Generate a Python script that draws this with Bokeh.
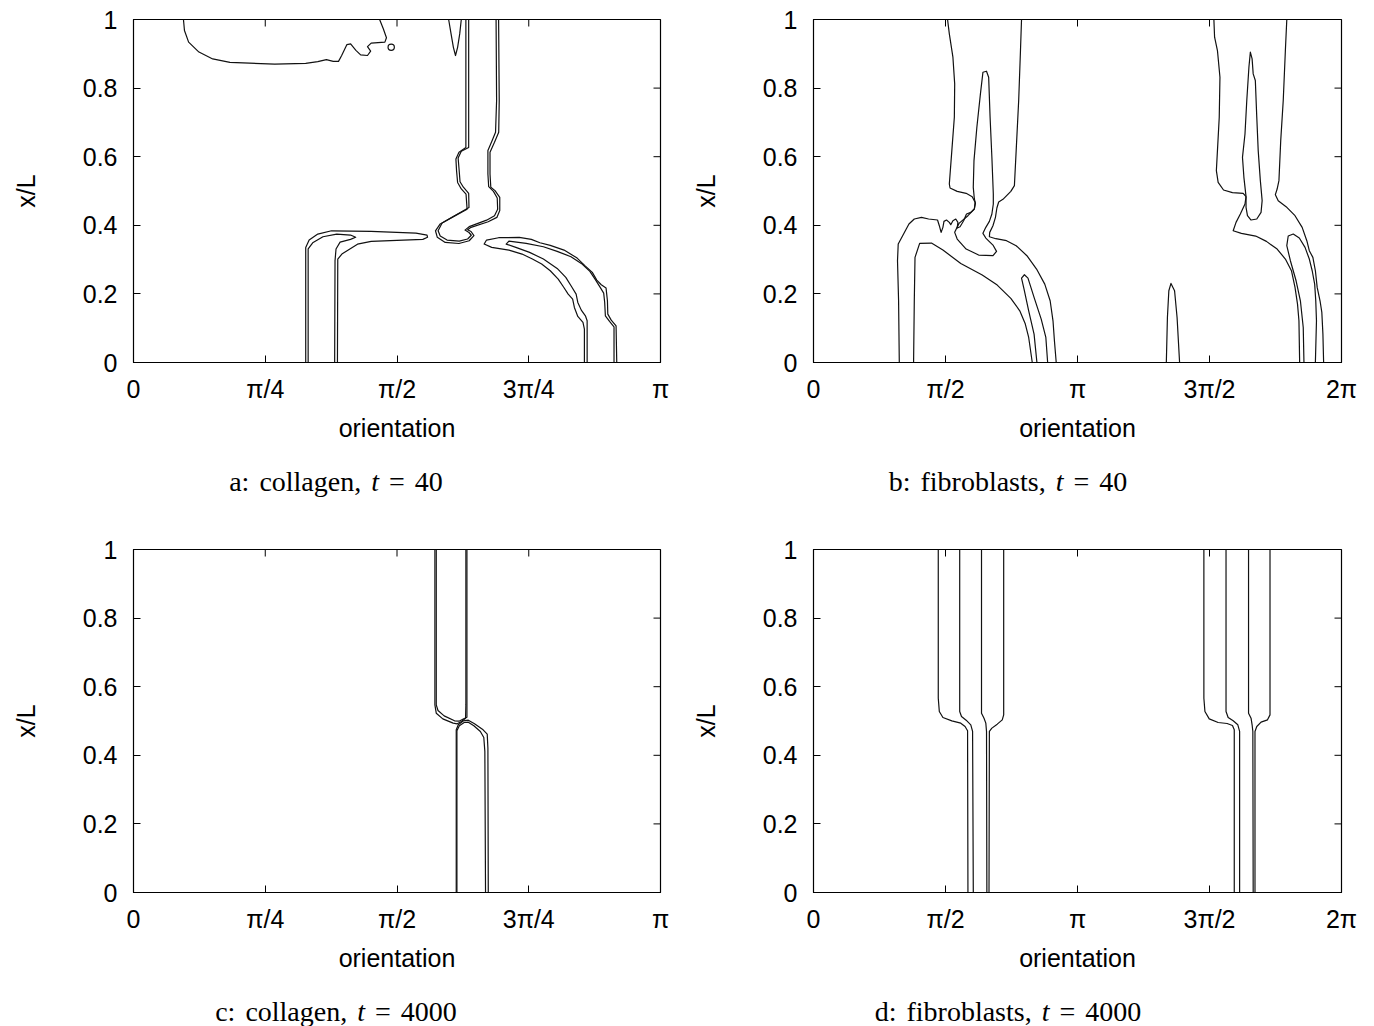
import numpy as np
from bokeh.plotting import figure
from bokeh.models import Range1d, FixedTicker, Div
from bokeh.layouts import column, row
from bokeh.embed import file_html
from bokeh.resources import INLINE

# Contour lines of the orientation distributions.
# Horizontal coordinate: orientation in units of pi; vertical: x/L.

# ---- a: collagen, t = 40 -------------------------------------------------
a_blob_x = [0.0948, 0.0967, 0.1046, 0.1242, 0.1503, 0.1830, 0.2680, 0.3268, 0.3497, 0.366,
            0.379, 0.389, 0.395, 0.405, 0.412, 0.422, 0.431, 0.444, 0.450, 0.444, 0.451,
            0.477, 0.480, 0.474, 0.467]
a_blob_y = [1.0, 0.968, 0.934, 0.905, 0.885, 0.875, 0.870, 0.872, 0.877, 0.883,
            0.878, 0.878, 0.895, 0.927, 0.929, 0.910, 0.897, 0.895, 0.908, 0.921, 0.931,
            0.934, 0.947, 0.973, 1.0]
a_ring_x, a_ring_y, a_ring_w, a_ring_h = 0.489, 0.919, 0.012, 0.018

a_spike_x = [0.598, 0.6026, 0.607, 0.611, 0.615, 0.619, 0.622]
a_spike_y = [1.0, 0.958, 0.919, 0.895, 0.919, 0.958, 1.0]

a_col1_x = [0.6307, 0.6307, 0.6176, 0.6118, 0.613, 0.615, 0.622, 0.631, 0.633, 0.608, 0.582,
            0.573, 0.5765, 0.5915, 0.6176, 0.637, 0.646, 0.6405, 0.634, 0.6405, 0.673, 0.6895,
            0.695, 0.695, 0.686, 0.678, 0.6765, 0.6765, 0.685, 0.693, 0.694, 0.6928]
a_col1_y = [1.0, 0.627, 0.613, 0.593, 0.559, 0.525, 0.506, 0.491, 0.447, 0.426, 0.404,
            0.384, 0.365, 0.350, 0.347, 0.355, 0.370, 0.382, 0.387, 0.394, 0.4105, 0.423,
            0.443, 0.4815, 0.501, 0.511, 0.5496, 0.613, 0.642, 0.671, 0.764, 1.0]
a_col2_x = [0.636, 0.636, 0.622, 0.616, 0.618, 0.6196, 0.626, 0.636, 0.6366, 0.611, 0.5856,
            0.578, 0.582, 0.595, 0.618, 0.634, 0.641, 0.6366, 0.629, 0.637, 0.670, 0.685,
            0.691, 0.6902, 0.683, 0.674, 0.6725, 0.6725, 0.680, 0.687, 0.689, 0.688]
a_col2_y = [1.0, 0.627, 0.616, 0.596, 0.559, 0.527, 0.511, 0.493, 0.452, 0.429, 0.4066,
            0.384, 0.369, 0.357, 0.354, 0.360, 0.371, 0.379, 0.386, 0.396, 0.415, 0.428,
            0.447, 0.4796, 0.499, 0.5126, 0.5496, 0.618, 0.645, 0.671, 0.764, 1.0]

a_left1_x = [0.3268, 0.3268, 0.3333, 0.3497, 0.3758, 0.451, 0.536, 0.557, 0.558, 0.549,
             0.451, 0.425, 0.3954, 0.3876, 0.387]
a_left1_y = [0.0, 0.3356, 0.357, 0.3745, 0.384, 0.382, 0.377, 0.3716, 0.365, 0.359,
             0.353, 0.345, 0.316, 0.3016, 0.0]
a_left2_x = [0.3314, 0.3314, 0.340, 0.3595, 0.3856, 0.4118, 0.4216, 0.4118, 0.392, 0.3843,
             0.3824, 0.3817]
a_left2_y = [0.0, 0.331, 0.349, 0.3667, 0.3745, 0.3716, 0.365, 0.359, 0.351, 0.331,
             0.2967, 0.0]

a_right1_x = [0.8556, 0.8556, 0.8529, 0.8431, 0.8366, 0.8333, 0.8248, 0.8157, 0.8059, 0.7908,
              0.7745, 0.7569, 0.7373, 0.7124, 0.6797, 0.6654, 0.6699, 0.6928, 0.7320, 0.7549,
              0.7712, 0.7908, 0.8170, 0.8418, 0.8575, 0.8706, 0.8791, 0.8876, 0.8967, 0.8993,
              0.9000, 0.9065, 0.9157, 0.9170]
a_right1_y = [0.0, 0.0973, 0.1167, 0.1342, 0.1605, 0.1848, 0.1994, 0.2208, 0.2432, 0.2675,
              0.2870, 0.3016, 0.3161, 0.3278, 0.3356, 0.3453, 0.3570, 0.3638, 0.3648, 0.3589,
              0.3492, 0.3414, 0.3278, 0.3045, 0.2811, 0.2626, 0.2403, 0.2267, 0.2169, 0.1800,
              0.1411, 0.1235, 0.1070, 0.0]
a_right2_x = [0.8608, 0.8608, 0.8575, 0.8497, 0.8431, 0.8399, 0.8314, 0.8203, 0.8039, 0.7778,
              0.7516, 0.7255, 0.7072, 0.7124, 0.7451, 0.7778, 0.8039, 0.8301, 0.8497, 0.8660,
              0.8758, 0.8856, 0.8922, 0.8941, 0.8954, 0.9033, 0.9118, 0.9118]
a_right2_y = [0.0, 0.1216, 0.1362, 0.1527, 0.1751, 0.1994, 0.2208, 0.2481, 0.2743, 0.3016,
              0.3210, 0.3356, 0.3453, 0.3541, 0.3473, 0.3375, 0.3239, 0.3084, 0.2889, 0.2656,
              0.2432, 0.2189, 0.2023, 0.1751, 0.1362, 0.1196, 0.1041, 0.0]

# ---- b: fibroblasts, t = 40 ----------------------------------------------
b_l1_x = [0.325, 0.3223, 0.3182, 0.3209, 0.3412, 0.3615, 0.3818, 0.4089, 0.436, 0.4698,
          0.4766, 0.4834, 0.4902, 0.4942, 0.5037, 0.5145, 0.5199, 0.5281, 0.5389, 0.547,
          0.5443, 0.5551, 0.5687, 0.5795, 0.5958, 0.6093, 0.612, 0.6012, 0.5782, 0.5443,
          0.5172, 0.5145, 0.524, 0.5335, 0.5348, 0.5281, 0.5145, 0.5078]
b_l1_y = [0.0, 0.18, 0.2967, 0.3453, 0.3745, 0.4037, 0.4183, 0.4232, 0.4183, 0.4154,
          0.3988, 0.3794, 0.394, 0.4115, 0.4154, 0.4086, 0.4018, 0.4134, 0.4183, 0.4086,
          0.392, 0.3959, 0.4134, 0.4329, 0.4377, 0.4475, 0.4669, 0.4835, 0.4932, 0.499,
          0.5088, 0.5204, 0.6177, 0.715, 0.8123, 0.8901, 0.9582, 1.0]
b_l2_x = [0.788, 0.784, 0.7772, 0.7677, 0.761, 0.7474, 0.7176, 0.7014, 0.6946, 0.6892,
          0.6797, 0.6675, 0.6662, 0.6906, 0.7312, 0.7677, 0.8083, 0.8449, 0.876, 0.8964,
          0.9072, 0.9126, 0.9194]
b_l2_y = [1.0, 0.9095, 0.7636, 0.6177, 0.5156, 0.499, 0.4757, 0.4679, 0.4504, 0.4232,
          0.3988, 0.3794, 0.3667, 0.3609, 0.3551, 0.3405, 0.3113, 0.2724, 0.2286, 0.18,
          0.1216, 0.0632, 0.0]
b_l3_x = [0.6093, 0.585, 0.5511, 0.5348, 0.5443, 0.5782, 0.6256, 0.6798, 0.6933, 0.6798,
          0.6527, 0.6418, 0.6527, 0.6662, 0.6757, 0.6811, 0.6811, 0.6757, 0.6689, 0.6635,
          0.6553, 0.6418, 0.6323, 0.6188, 0.6079, 0.6052, 0.6093, 0.6134, 0.6093]
b_l3_y = [0.4475, 0.428, 0.4056, 0.3794, 0.3599, 0.3307, 0.3132, 0.3113, 0.3239, 0.3424,
          0.3628, 0.3765, 0.394, 0.4115, 0.4329, 0.462, 0.4912, 0.5982, 0.715, 0.8317,
          0.8492, 0.8463, 0.7831, 0.6858, 0.5885, 0.5107, 0.4767, 0.464, 0.4475]
b_l4_x = [0.3791, 0.3818, 0.3845, 0.4021, 0.4468, 0.4902, 0.5579, 0.6391, 0.696, 0.7474,
          0.7813, 0.8016, 0.8151, 0.8287]
b_l4_y = [0.0, 0.18, 0.3064, 0.3473, 0.3482, 0.3278, 0.2889, 0.2549, 0.2257, 0.1868,
          0.1508, 0.1138, 0.073, 0.0]
b_l5_x = [0.8463, 0.8355, 0.8151, 0.7975, 0.788, 0.7989, 0.8124, 0.8355, 0.8625, 0.8801,
          0.8869]
b_l5_y = [0.0, 0.0827, 0.1508, 0.214, 0.2461, 0.2558, 0.2461, 0.1897, 0.1265, 0.073, 0.0]
b_c_x = [1.3365, 1.3406, 1.3460, 1.3541, 1.3677, 1.3772, 1.3867]
b_c_y = [0.0, 0.1313, 0.2091, 0.2305, 0.2091, 0.1313, 0.0]
b_r1_x = [1.5166, 1.5193, 1.5301, 1.5396, 1.5369, 1.5301, 1.526, 1.5328, 1.5531, 1.5869,
          1.6276, 1.6384, 1.6344, 1.6168, 1.6005, 1.5897, 1.6208, 1.6750, 1.7156, 1.7562,
          1.7874, 1.8104, 1.8239, 1.8334, 1.8388, 1.8415]
b_r1_y = [1.0, 0.9484, 0.9095, 0.8317, 0.715, 0.6177, 0.5593, 0.5253, 0.5029, 0.4951,
          0.4932, 0.4835, 0.4621, 0.4329, 0.4086, 0.3842, 0.3765, 0.3687, 0.3531, 0.3307,
          0.3016, 0.2675, 0.2189, 0.1702, 0.1216, 0.0]
b_r2_x = [1.6384, 1.6303, 1.6249, 1.6344, 1.6412, 1.6493, 1.6547, 1.6614, 1.6655, 1.6736,
          1.6791, 1.6845, 1.6926, 1.6994, 1.6953, 1.6791, 1.6574, 1.6438, 1.6384, 1.6384]
b_r2_y = [0.4835, 0.5399, 0.5982, 0.6663, 0.7636, 0.8609, 0.9047, 0.8852, 0.8414, 0.822,
          0.715, 0.6177, 0.5302, 0.4718, 0.4377, 0.4183, 0.4154, 0.428, 0.4523, 0.4835]
b_r3_x = [1.7928, 1.7874, 1.7793, 1.7698, 1.763, 1.7562, 1.7495, 1.7603, 1.7901, 1.8239,
          1.851, 1.8686, 1.8781, 1.8916, 1.9011, 1.9079, 1.9187, 1.9255, 1.9296, 1.9323]
b_r3_y = [1.0, 0.9095, 0.7636, 0.6469, 0.5302, 0.5058, 0.4893, 0.4718, 0.4543, 0.428,
          0.394, 0.3551, 0.3259, 0.3064, 0.2675, 0.2189, 0.18, 0.1459, 0.0827, 0.0]
b_r4_x = [1.8578, 1.8551, 1.8443, 1.828, 1.8064, 1.7928, 1.7982, 1.8172, 1.8402, 1.8619,
          1.8781, 1.889, 1.8984, 1.9025, 1.9052, 1.9011]
b_r4_y = [0.0, 0.1021, 0.18, 0.2383, 0.2967, 0.3405, 0.3687, 0.3745, 0.3628, 0.3356,
          0.3016, 0.2675, 0.2286, 0.18, 0.1216, 0.0]

# ---- c: collagen, t = 4000 -----------------------------------------------
c_1_x = [0.5719, 0.5719, 0.5745, 0.5869, 0.6065, 0.6144, 0.6222, 0.6301, 0.6307, 0.6307]
c_1_y = [1.0, 0.547, 0.5227, 0.5063, 0.4937, 0.4918, 0.4985, 0.5082, 0.547, 1.0]
c_2_x = [0.5745, 0.5745, 0.5778, 0.5895, 0.6092, 0.6176, 0.6248, 0.6327, 0.6327, 0.6327]
c_2_y = [1.0, 0.547, 0.5305, 0.515, 0.5005, 0.4995, 0.5053, 0.5111, 0.547, 1.0]
c_3_x = [0.6124, 0.6124, 0.6163, 0.6261, 0.6353, 0.6471, 0.6634, 0.6712, 0.6725, 0.6732]
c_3_y = [0.0, 0.4743, 0.4889, 0.5005, 0.5024, 0.4918, 0.4743, 0.4618, 0.4211, 0.0]
c_4_x = [0.6137, 0.6137, 0.6183, 0.6275, 0.6353, 0.6458, 0.6582, 0.6647, 0.6667, 0.668]
c_4_y = [0.0, 0.4714, 0.486, 0.4956, 0.4966, 0.486, 0.4695, 0.4521, 0.4114, 0.0]

# ---- d: fibroblasts, t = 4000 --------------------------------------------
d_1_x = [0.4726, 0.4726, 0.4766, 0.4902, 0.5240, 0.5579, 0.5741, 0.5836, 0.5850]
d_1_y = [1.0, 0.5663, 0.5276, 0.5102, 0.5005, 0.4937, 0.484, 0.4714, 0.0]
d_2_x = [0.5538, 0.5538, 0.5606, 0.5782, 0.5958, 0.6026, 0.6053]
d_2_y = [1.0, 0.5276, 0.5131, 0.5024, 0.4889, 0.4695, 0.0]
d_3_x = [0.6364, 0.6364, 0.6459, 0.6527, 0.6554, 0.6567]
d_3_y = [1.0, 0.5228, 0.5082, 0.4937, 0.4695, 0.0]
d_4_x = [0.7204, 0.7204, 0.715, 0.696, 0.6757, 0.6662, 0.6648]
d_4_y = [1.0, 0.5179, 0.5034, 0.4908, 0.4792, 0.4695, 0.0]
d_5_x = [1.4787, 1.4787, 1.4827, 1.499, 1.5328, 1.5667, 1.587, 1.5938, 1.5938]
d_5_y = [1.0, 0.5663, 0.5276, 0.5063, 0.4956, 0.4927, 0.4869, 0.4743, 0.0]
d_6_x = [1.5626, 1.5626, 1.5707, 1.5897, 1.6073, 1.6141, 1.6141]
d_6_y = [1.0, 0.5276, 0.5102, 0.5005, 0.4889, 0.4695, 0.0]
d_7_x = [1.6479, 1.6479, 1.6574, 1.6614, 1.6642, 1.6655]
d_7_y = [1.0, 0.5228, 0.5082, 0.4889, 0.4695, 0.0]
d_8_x = [1.7292, 1.7292, 1.7197, 1.6953, 1.6791, 1.6723, 1.6723]
d_8_y = [1.0, 0.5179, 0.5034, 0.4966, 0.484, 0.4695, 0.0]

# Axis ticks
y_ticks = [0, 0.2, 0.4, 0.6, 0.8, 1]
y_tick_labels = ["0", "0.2", "0.4", "0.6", "0.8", "1"]
half_ticks = [0, 0.25, 0.5, 0.75, 1]
half_tick_labels = ["0", "π/4", "π/2", "3π/4", "π"]
full_ticks = [0, 0.5, 1, 1.5, 2]
full_tick_labels = ["0", "π/2", "π", "3π/2", "2π"]

captions = [
    "a: collagen, <i>t</i> = 40",
    "b: fibroblasts, <i>t</i> = 40",
    "c: collagen, <i>t</i> = 4000",
    "d: fibroblasts, <i>t</i> = 4000",
]

SANS = "Liberation Sans"
FS = "25px"
TICK = 7
INK = "#111111"


def style_axis(ax, ticks, labels):
    ax.ticker = FixedTicker(ticks=ticks)
    ax.major_label_overrides = {t: s for t, s in zip(ticks, labels)}
    ax.major_tick_in = TICK
    ax.major_tick_out = 0
    ax.minor_tick_line_color = None
    ax.axis_line_color = "black"
    ax.major_tick_line_color = "black"
    ax.major_label_text_font = SANS
    ax.major_label_text_font_size = FS
    ax.major_label_text_color = "black"
    ax.axis_label_text_font = SANS
    ax.axis_label_text_font_style = "normal"
    ax.axis_label_text_font_size = FS
    ax.axis_label_text_color = "black"


def panel(width, border_right, xmax, xticks, xlabels, curves, ring=None):
    p = figure(width=width, height=462, x_range=Range1d(0, xmax), y_range=Range1d(0, 1),
               output_backend="svg", toolbar_location=None, tools="",
               min_border_left=133, min_border_right=border_right,
               min_border_top=19, min_border_bottom=100,
               background_fill_color="white", border_fill_color="white")
    p.grid.visible = False
    p.outline_line_color = "black"
    p.outline_line_width = 1.2

    style_axis(p.xaxis[0], xticks, xlabels)
    p.xaxis[0].axis_label = "orientation"
    p.xaxis[0].major_label_standoff = 12
    p.xaxis[0].axis_label_standoff = 8

    style_axis(p.yaxis[0], y_ticks, y_tick_labels)
    p.yaxis[0].axis_label = "x/L"
    p.yaxis[0].major_label_standoff = 16
    p.yaxis[0].axis_label_standoff = 40

    # mirrored inward ticks on the top and right edges of the frame
    p.ray(x=xticks, y=[1] * len(xticks), length=TICK, length_units="screen",
          angle=-np.pi / 2, line_color="black", line_width=1)
    p.ray(x=[xmax] * len(y_ticks), y=y_ticks, length=TICK, length_units="screen",
          angle=np.pi, line_color="black", line_width=1)

    for cx, cy in curves:
        p.line(cx, cy, line_color=INK, line_width=1.2, line_join="round")
    if ring is not None:
        p.ellipse(x=[ring[0]], y=[ring[1]], width=[ring[2]], height=[ring[3]],
                  fill_color=None, line_color=INK, line_width=1.2)
    return p


pa = panel(680, 20, 1, half_ticks, half_tick_labels,
           [(a_blob_x, a_blob_y), (a_spike_x, a_spike_y), (a_col1_x, a_col1_y),
            (a_col2_x, a_col2_y), (a_left1_x, a_left1_y), (a_left2_x, a_left2_y),
            (a_right1_x, a_right1_y), (a_right2_x, a_right2_y)],
           ring=(a_ring_x, a_ring_y, a_ring_w, a_ring_h))
pb = panel(694, 33, 2, full_ticks, full_tick_labels,
           [(b_l1_x, b_l1_y), (b_l2_x, b_l2_y), (b_l3_x, b_l3_y), (b_l4_x, b_l4_y),
            (b_l5_x, b_l5_y), (b_c_x, b_c_y), (b_r1_x, b_r1_y), (b_r2_x, b_r2_y),
            (b_r3_x, b_r3_y), (b_r4_x, b_r4_y)])
pc = panel(680, 20, 1, half_ticks, half_tick_labels,
           [(c_1_x, c_1_y), (c_2_x, c_2_y), (c_3_x, c_3_y), (c_4_x, c_4_y)])
pd = panel(694, 33, 2, full_ticks, full_tick_labels,
           [(d_1_x, d_1_y), (d_2_x, d_2_y), (d_3_x, d_3_y), (d_4_x, d_4_y),
            (d_5_x, d_5_y), (d_6_x, d_6_y), (d_7_x, d_7_y), (d_8_x, d_8_y)])


def caption(html, width, inner, height):
    return Div(
        text=(f'<div style="width:{inner}px;text-align:center;'
              f'font-family:\'Liberation Serif\';font-size:28px;line-height:32px;'
              f'word-spacing:3px;padding-top:4px;color:black;white-space:nowrap">'
              f'{html}</div>'),
        width=width, height=height, margin=(0, 0, 0, 0))


layout = column(
    row(pa, pb),
    row(caption(captions[0], 680, 672, 68), caption(captions[1], 694, 656, 68)),
    row(pc, pd),
    row(caption(captions[2], 680, 672, 34), caption(captions[3], 694, 656, 34)),
)

with open("out.html", "w") as f:
    f.write(file_html(layout, INLINE))
